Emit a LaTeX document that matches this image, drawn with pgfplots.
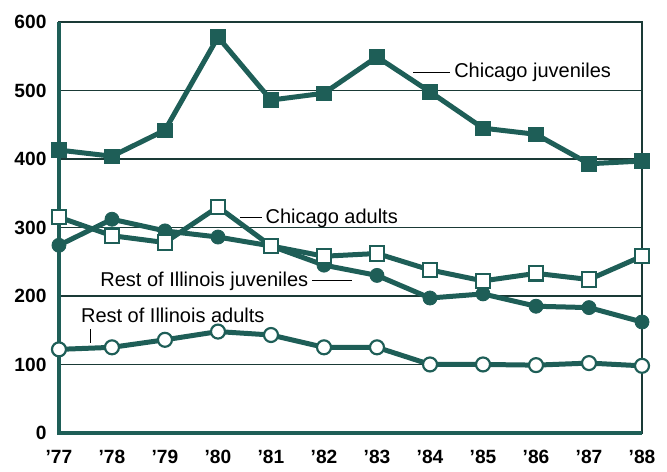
\documentclass[border=0pt]{standalone}
\usepackage{pgfplots}
\pgfplotsset{compat=1.18}
\usepackage{fontspec}
\setmainfont{Liberation Sans}
\definecolor{teal1}{HTML}{1E5E57}
\definecolor{gridc}{HTML}{1A3A36}

\begin{document}
\begin{tikzpicture}
  \begin{axis}[
    scale only axis,
    width=350pt, height=246.7pt,
    xmin=77, xmax=88, ymin=0, ymax=600,
    xtick={77,...,88},
    xticklabels={’77,’78,’79,’80,’81,’82,’83,’84,’85,’86,’87,’88},
    ytick={0,100,...,600},
    ymajorgrids,
    major grid style={gridc, line width=1pt},
    major tick length=0pt,
    axis line style={gridc, line width=0.9pt},
    tick label style={font=\fontsize{11.5}{13}\selectfont\bfseries, text=black},
    /pgf/number format/assume math mode=true,
    xticklabel style={yshift=-7pt},
    yticklabel style={xshift=-4pt},
    clip=false,
  ]
    % page margins as in the reference
    \path (rel axis cs:0,0) +(-35.4pt,-23.4pt);
    \path (rel axis cs:1,1) +(15pt,13.2pt);

    % thicker left and bottom axis lines
    \draw[teal1, line width=2.2pt] (rel axis cs:0,1) -- (rel axis cs:0,0) -- (rel axis cs:1,0);

    % Chicago juveniles
    \addplot[teal1, line width=3pt, mark=square*, mark size=4.3pt, mark options={fill=teal1, draw=teal1, line width=0.5pt}] coordinates {
      (77,413) (78,404) (79,442) (80,578) (81,486) (82,496)
      (83,549) (84,498) (85,445) (86,436) (87,393) (88,397)
    };

    % Rest of Illinois juveniles
    \addplot[teal1, line width=3pt, mark=*, mark size=4.2pt, mark options={fill=teal1, draw=teal1, line width=0.5pt}] coordinates {
      (77,274) (78,312) (79,295) (80,286) (81,273) (82,245)
      (83,230) (84,197) (85,203) (86,185) (87,183) (88,162)
    };

    % Chicago adults
    \addplot[teal1, line width=3pt, mark=square*, mark size=4.3pt, mark options={fill=white, draw=teal1, line width=1.3pt}] coordinates {
      (77,315) (78,288) (79,278) (80,330) (81,273) (82,258)
      (83,262) (84,238) (85,222) (86,233) (87,224) (88,258)
    };

    % Rest of Illinois adults
    \addplot[teal1, line width=3pt, mark=*, mark size=4.2pt, mark options={fill=white, draw=teal1, line width=1.3pt}] coordinates {
      (77,122) (78,125) (79,136) (80,148) (81,143) (82,125)
      (83,125) (84,100) (85,100) (86,99) (87,102) (88,98)
    };

    % labels
    \draw[black, line width=0.5pt] (axis cs:83.68,527) -- (axis cs:84.38,527);
    \node[anchor=west, inner sep=1pt, font=\fontsize{12}{14}\selectfont] at (axis cs:84.42,527) {Chicago juveniles};

    \draw[black, line width=0.5pt] (axis cs:80.42,314) -- (axis cs:80.83,314);
    \node[anchor=west, inner sep=1pt, font=\fontsize{12}{14}\selectfont] at (axis cs:80.86,314) {Chicago adults};

    \draw[black, line width=0.5pt] (axis cs:81.77,222) -- (axis cs:82.53,222);
    \node[anchor=east, inner sep=1pt, font=\fontsize{12}{14}\selectfont] at (axis cs:81.74,222) {Rest of Illinois juveniles};

    \draw[black, line width=0.5pt] (axis cs:77.6,152) -- (axis cs:77.6,131);
    \node[anchor=west, inner sep=1pt, font=\fontsize{12}{14}\selectfont] at (axis cs:77.38,171) {Rest of Illinois adults};
  \end{axis}
\end{tikzpicture}
\end{document}
